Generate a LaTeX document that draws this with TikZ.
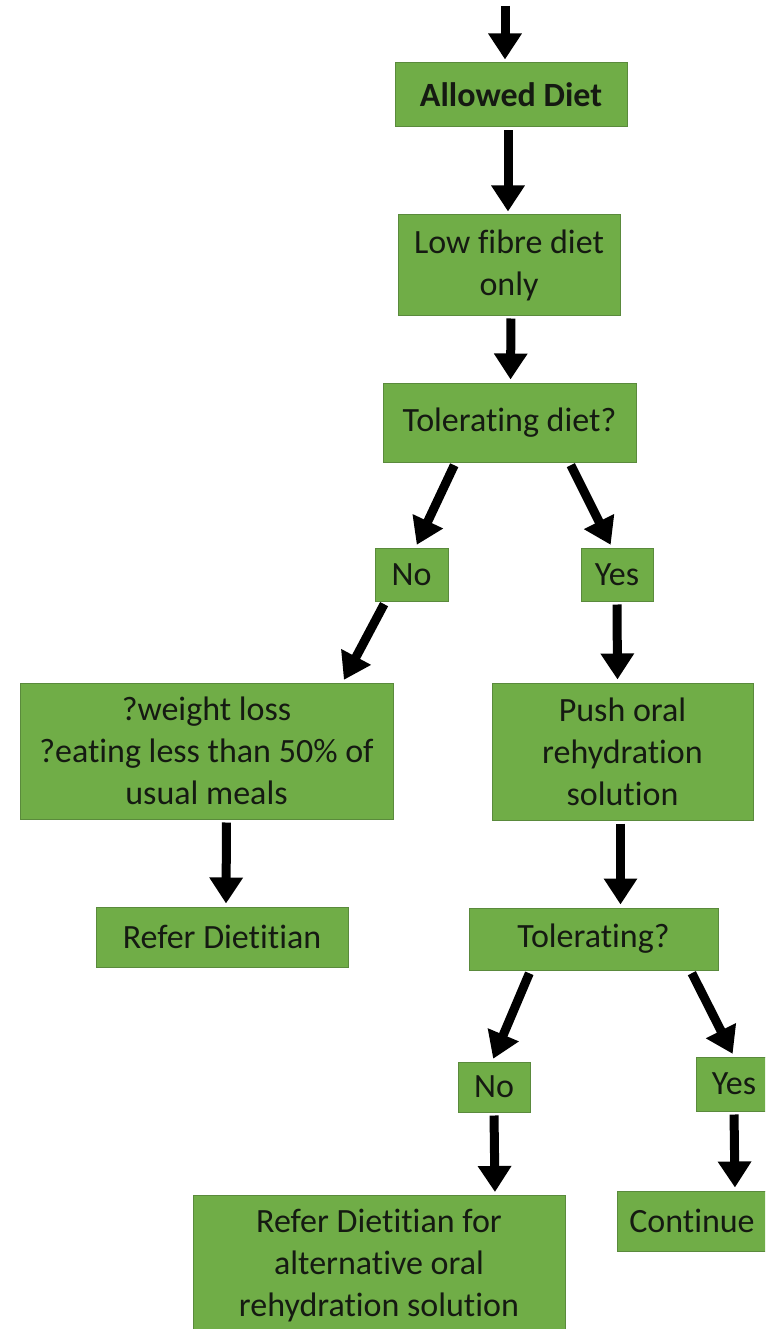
\documentclass[tikz,border=0pt]{standalone}
\usepackage{fontspec}
\setmainfont{Carlito}[Ligatures=NoCommon]
\usetikzlibrary{arrows.meta}
\definecolor{boxfill}{HTML}{70AD47}
\definecolor{boxline}{HTML}{5A8A3C}
\definecolor{ink}{HTML}{151A12}
\tikzset{
  box/.style={draw=boxline, line width=1pt, fill=boxfill, text=ink,
    align=center, inner sep=2pt, font=\fontsize{34}{42}\selectfont},
  arr/.style={draw=black, line width=9pt,
    -{Triangle[length=26pt,width=32pt]}, shorten <=3pt, shorten >=3pt}
}
\begin{document}
\begin{tikzpicture}[x=1pt,y=1pt]
  \clip (0,0) rectangle (765,-1329);
  \fill[white] (0,0) rectangle (765,-1329);

  % nodes, positioned by centre
  \node[box, minimum width=232pt, minimum height=64pt] (allowed) at (511,-95) {\textbf{Allowed Diet}};
  \node[box, minimum width=222pt, minimum height=100pt] (low) at (509,-265) {Low fibre diet\\only};
  \node[box, minimum width=253pt, minimum height=79pt] (tol) at (509.5,-422.5) {Tolerating diet?};
  \node[box, minimum width=73pt, minimum height=53pt] (noA) at (411.5,-574.5) {No};
  \node[box, minimum width=72pt, minimum height=53pt] (yesA) at (617,-574.5) {Yes};
  \node[box, minimum width=373pt, minimum height=136pt] (weight) at (206.5,-751) {?weight loss\\?eating less than 50\% of\\usual meals};
  \node[box, minimum width=261pt, minimum height=137pt] (push) at (622.5,-751.5) {Push oral\\rehydration\\solution};
  \node[box, minimum width=252pt, minimum height=60pt] (refer) at (222,-937) {Refer Dietitian};
  \node[box, minimum width=249pt, minimum height=62pt] (tolB) at (593.5,-939) {Tolerating?};
  \node[box, minimum width=72pt, minimum height=50pt] (noB) at (494,-1087) {No};
  \node[box, minimum width=76pt, minimum height=54pt] (yesB) at (734,-1084) {Yes};
  \node[box, minimum width=150pt, minimum height=60pt] (cont) at (692,-1221) {Continue};
  \node[box, minimum width=372pt, minimum height=150pt, anchor=north] (alt) at (379,-1195)
    {\rule{0pt}{0pt}\\[-28pt]Refer Dietitian for\\alternative oral\\rehydration solution};

  % entry point above the first box
  \coordinate (entry) at (505,-6);

  % connectors
  \draw[arr, shorten <=0pt] (entry) -- ([xshift=-6pt]allowed.north);
  \draw[arr] ([xshift=-3pt]allowed.south) -- ([xshift=-1pt]low.north);
  \draw[arr] ([xshift=2pt]low.south) -- ([xshift=1pt]tol.north);
  \draw[arr] ([xshift=-54pt]tol.south) -- ([xshift=4pt]noA.north);
  \draw[arr] ([xshift=60pt]tol.south) -- ([xshift=-5pt]yesA.north);
  \draw[arr] ([xshift=-26pt]noA.south) -- ([xshift=136pt]weight.north);
  \draw[arr] (yesA.south) -- ([xshift=-5pt]push.north);
  \draw[arr] ([xshift=20pt]weight.south) -- ([xshift=4pt]refer.north);
  \draw[arr] ([xshift=-2pt]push.south) -- ([xshift=27pt]tolB.north);
  \draw[arr] ([xshift=-63pt]tolB.south) -- ([xshift=-2pt]noB.north);
  \draw[arr] ([xshift=97pt]tolB.south) -- (yesB.north);
  \draw[arr] (noB.south) -- ([xshift=116pt]alt.north);
  \draw[arr] (yesB.south) -- ([xshift=43pt]cont.north);
\end{tikzpicture}
\end{document}
